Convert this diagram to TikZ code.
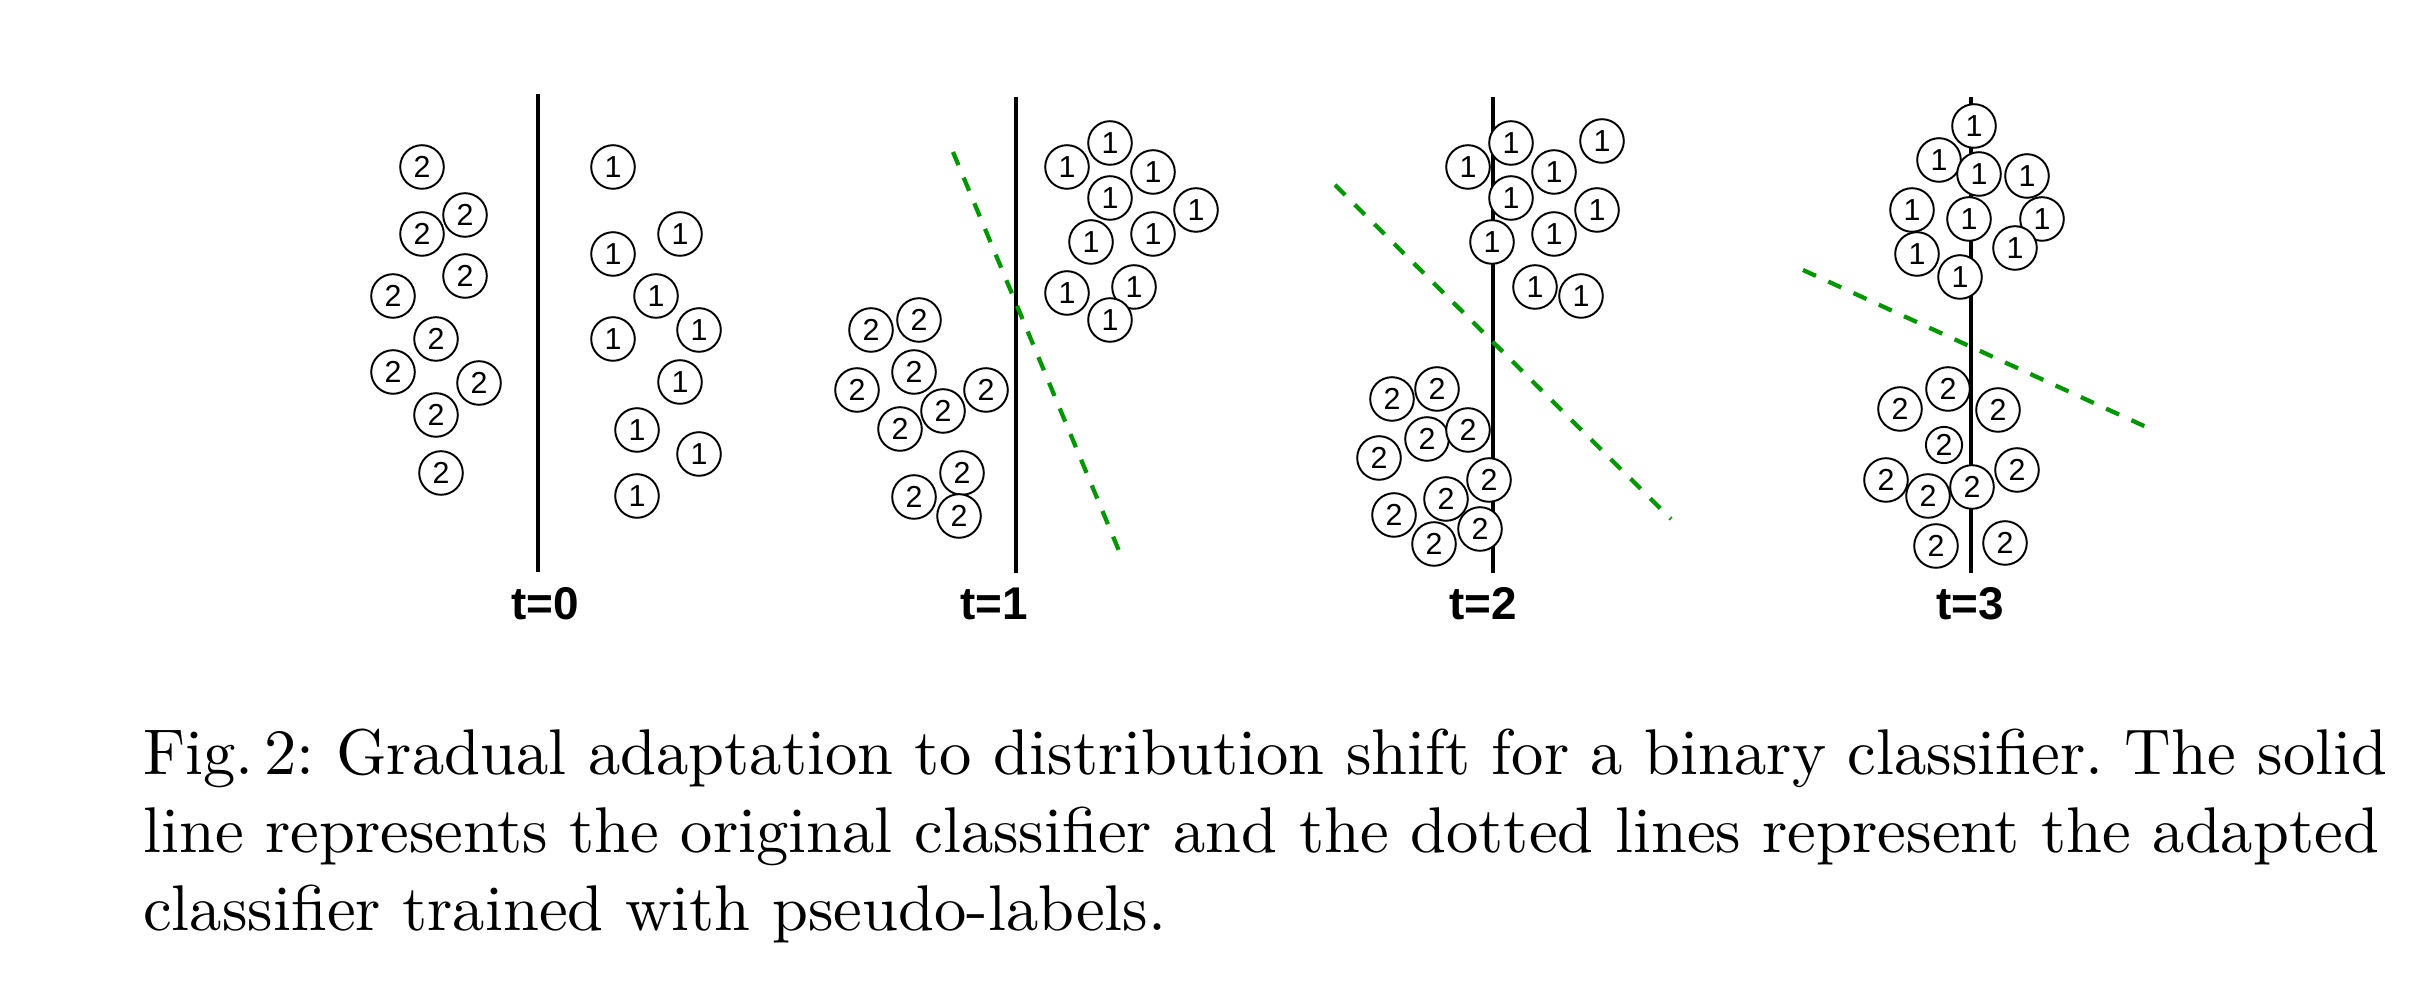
\documentclass[tikz,border=0pt]{standalone}
\usepackage{fontspec}
\newfontfamily\arialfont{Liberation Sans}
\definecolor{adaptgreen}{RGB}{0,150,0}
\tikzset{
  sample/.style={circle,draw,fill=white,line width=0.3pt,inner sep=0pt,
    minimum size=6.75pt,font=\arialfont\fontsize{4.7}{5}\selectfont},
  smallsample/.style={sample,minimum size=5.6pt},
  origline/.style={line width=0.65pt},
  adaptline/.style={adaptgreen,line width=0.66pt,dash pattern=on 2.2pt off 2.1pt},
  steplabel/.style={font=\arialfont\bfseries\fontsize{7.1}{8}\selectfont,inner sep=0pt}
}

\begin{document}
\begin{tikzpicture}[x=0.1548pt,y=-0.1548pt]
  \useasboundingbox (0,0) rectangle (2413,1000);
  % classifier lines
  \coordinate (s0t) at (538,94);   \coordinate (s0b) at (538,572);
  \coordinate (s1t) at (1016,97);  \coordinate (s1b) at (1016,573);
  \coordinate (s2t) at (1493,97);  \coordinate (s2b) at (1493,573);
  \coordinate (s3t) at (1971,97);  \coordinate (s3b) at (1971,573);
  \coordinate (d1t) at (953,152);  \coordinate (d1b) at (1122,558);
  \coordinate (d2t) at (1335,185); \coordinate (d2b) at (1671,519);
  \coordinate (d3t) at (1803,270); \coordinate (d3b) at (2155,431);
  \foreach \k in {0,1,2,3}{ \draw[origline] (s\k t) -- (s\k b); }
  \foreach \k in {1,2,3}{ \draw[adaptline] (d\k t) -- (d\k b); }
  % t=0
  \foreach \x/\y [count=\i] in {422/167,465/215,422/234,465/276,393/296,436/339,393/372,479/383,436/415,441/473}
    \node[sample] (zero-two-\i) at (\x,\y) {2};
  \foreach \x/\y [count=\i] in {613/167,680/234,613/254,656/296,613/339,699/330,680/382,637/430,699/454,637/496}
    \node[sample] (zero-one-\i) at (\x,\y) {1};
  % t=1
  \foreach \x/\y [count=\i] in {871/330,919/320,914/372,857/390,986/390,943/411,900/429,962/473,914/497,959/516}
    \node[sample] (one-two-\i) at (\x,\y) {2};
  \foreach \x/\y [count=\i] in {1110/143,1067/167,1153/172,1110/198,1196/210,1091/242,1153/234,1067/293,1134/287,1110/320}
    \node[sample] (one-one-\i) at (\x,\y) {1};
  % t=2
  \foreach \x/\y [count=\i] in {1392/399,1437/389,1427/439,1468/430,1379/458,1489/480,1446/499,1394/515,1480/529,1434/544}
    \node[sample] (two-two-\i) at (\x,\y) {2};
  \foreach \x/\y [count=\i] in {1511/143,1468/167,1554/172,1602/141,1511/198,1597/210,1492/242,1554/234,1535/287,1581/296}
    \node[sample] (two-one-\i) at (\x,\y) {1};
  % t=3
  \foreach \x/\y [count=\i] in {1948/389,1900/409,1998/410,1886/480,2017/470,1928/496,1972/487,1936/546,2005/543}
    \node[sample] (three-two-\i) at (\x,\y) {2};
  \node[smallsample] (three-two-10) at (1944,445) {2};
  \foreach \x/\y [count=\i] in {1974/126,1939/160,1979/174,2027/176,1912/210,1969/219,2042/219,1917/254,2015/248,1960/277}
    \node[sample] (three-one-\i) at (\x,\y) {1};
  % step labels
  \node[steplabel] (t0) at (545,604) {t=0};
  \node[steplabel] (t1) at (994,604) {t=1};
  \node[steplabel] (t2) at (1483,604) {t=2};
  \node[steplabel] (t3) at (1970,604) {t=3};
  % caption
  \node[anchor=base west,inner sep=0pt,text width=348.4pt] (caption) at (142,775)
    {\frenchspacing
     \hbox to \linewidth{Fig.\,2: Gradual adaptation to distribution shift for a binary classifier. The solid}\par
     \hbox to \linewidth{line represents the original classifier and the dotted lines represent the adapted}\par
     \noindent classifier trained with pseudo-labels.};
\end{tikzpicture}
\end{document}
